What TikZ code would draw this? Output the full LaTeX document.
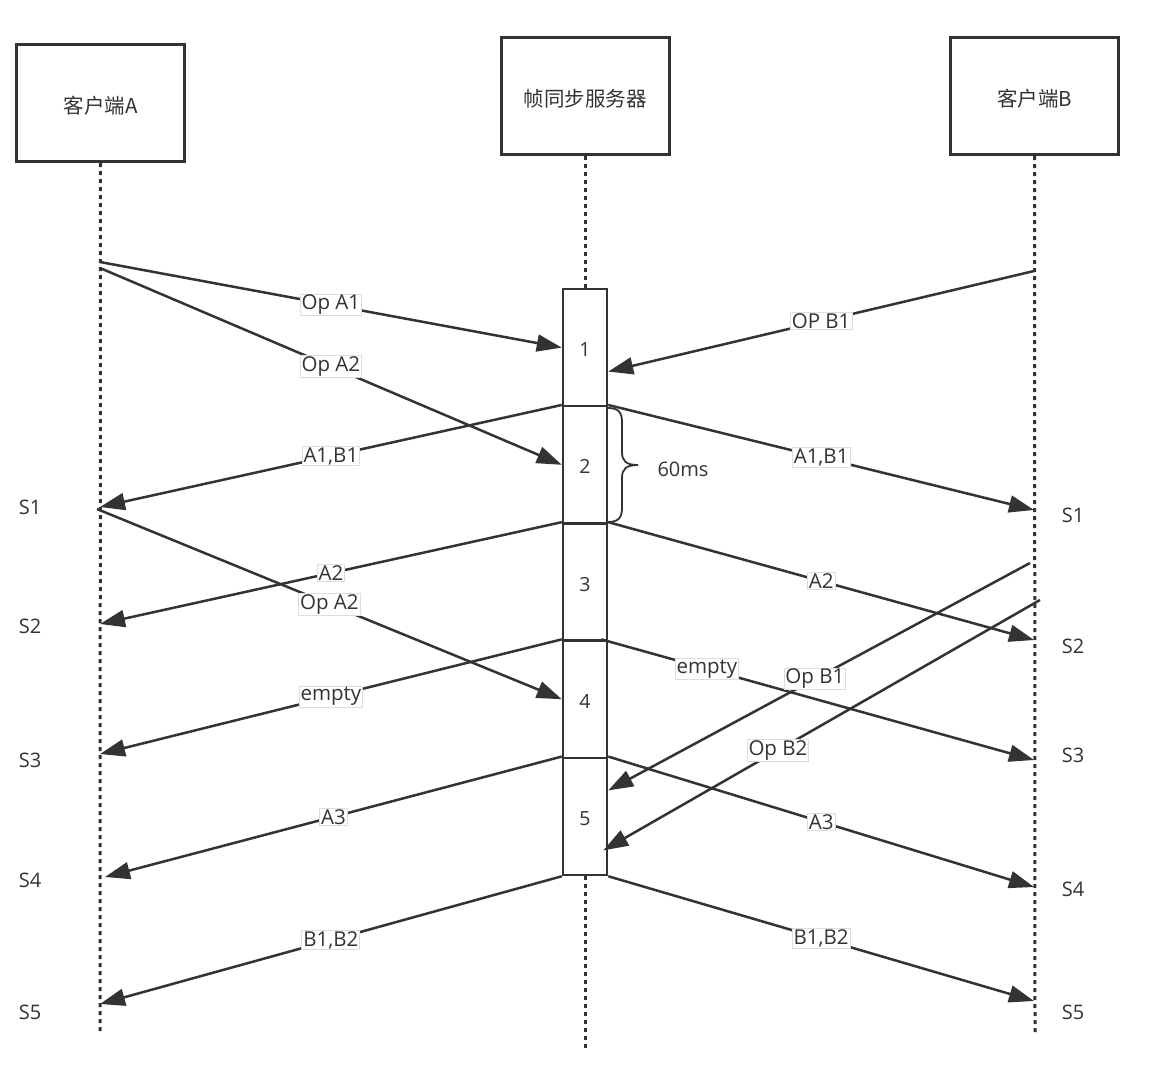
\documentclass[tikz,border=0pt]{standalone}
\usepackage{fontspec}
\setmainfont{Open Sans}
\newfontfamily\cjkfont{Noto Sans CJK SC}
\usetikzlibrary{arrows.meta,calc}
\definecolor{ink}{HTML}{333333}
\definecolor{labline}{HTML}{DDDDDD}
\begin{document}
\begin{tikzpicture}[x=1pt,y=-1pt,
  actor/.style={draw=ink, line width=3pt, minimum width=168pt, minimum height=117pt, inner sep=0pt, text height=24pt, text depth=4pt, font=\cjkfont\fontsize{20.5}{24}\selectfont, text=ink},
  frame/.style={draw=ink, fill=white, line width=2.5pt, minimum width=44pt, minimum height=117.2pt, inner sep=0pt, text height=18pt, text depth=0pt, font=\fontsize{19.5}{22}\selectfont, text=ink},
  life/.style={draw=ink, line width=3pt, dash pattern=on 4pt off 4pt},
  msg/.style={draw=ink, line width=2.5pt, -{Triangle[length=25pt,width=17pt]}},
  lab/.style={fill=white, draw=labline, line width=0.8pt, inner xsep=1.5pt, inner ysep=1pt, text=ink, font=\fontsize{20.5}{24}\selectfont},
  state/.style={text=ink, font=\fontsize{20}{22}\selectfont},
  bracestyle/.style={draw=ink, line width=1.8pt}]

\useasboundingbox (0,0) rectangle (1172,1071);
\fill[white] (0,0) rectangle (1172,1071);

% participants
\node[actor] (ca) at (100.5,103) {客户端A};
\node[actor] (srv) at (585,96) {帧同步服务器};
\node[actor] (cb) at (1034.5,96) {客户端B};

% lifeline ends
\coordinate (aend) at (100,1031);
\coordinate (send) at (585,1052);
\coordinate (bend) at (1035,1035);

\draw[life] (ca.south) -- (aend);
\draw[life] (cb.south) -- (bend);

% frames
\node[frame] (f1) at (585,347.6) {1};
\node[frame] (f2) at (585,464.8) {2};
\node[frame] (f3) at (585,582.0) {3};
\node[frame] (f4) at (585,699.2) {4};
\node[frame] (f5) at (585,816.4) {5};

\draw[life] (srv.south) -- (f1.north);
\draw[life] (f5.south) -- (send);

% points on client A lifeline
\coordinate (a0) at (100,262);
\coordinate (a0b) at (100,268);
\coordinate (aS1) at (100,507);
\coordinate (aS1b) at (97,509);
\coordinate (aS2) at (100,624);
\coordinate (aS3) at (100,754);
\coordinate (aS4) at (105,877);
\coordinate (aS5) at (100,1004);

% points on client B lifeline
\coordinate (b0) at (1034,271);
\coordinate (bS1) at (1034,510);
\coordinate (b1) at (1030,563);
\coordinate (b2) at (1040,600);
\coordinate (bS2) at (1034,640);
\coordinate (bS3) at (1034,760);
\coordinate (bS4) at (1034,887);
\coordinate (bS5) at (1034,1001);

% messages
\draw[msg] (a0) -- node[lab] {Op A1} (f1.west);
\draw[msg] (a0b) -- node[lab] {Op A2} (f2.west);
\draw[msg] (b0) -- node[lab] {OP B1} ($(f1.east)+(0,24)$);

\draw[msg] (f2.north west) -- node[lab] {A1,B1} (aS1);
\draw[msg] (f2.north east) -- node[lab] {A1,B1} (bS1);

\draw[msg] (f3.north west) -- node[lab] {A2} (aS2);
\draw[msg] (f3.north east) -- node[lab] {A2} (bS2);

\draw[msg] (aS1b) -- node[lab] {Op A2} (f4.west);

\draw[msg] (f4.north west) -- node[lab] {empty} (aS3);
\draw[msg] ($(f4.north east)+(-7,0)$) -- node[lab, pos=0.244] {empty} (bS3);

\draw[msg] (b1) -- node[lab, pos=0.51] {Op B1} ($(f5.east)+(0,-26)$);
\draw[msg] (b2) -- node[lab, pos=0.6] {Op B2} ($(f5.east)+(-5,34)$);

\draw[msg] (f5.north west) -- node[lab] {A3} (aS4);
\draw[msg] (f5.north east) -- node[lab] {A3} (bS4);

\draw[msg] (f5.south west) -- node[lab] {B1,B2} (aS5);
\draw[msg] (f5.south east) -- node[lab] {B1,B2} (bS5);

% brace and duration
\draw[bracestyle] (608,408) .. controls (618,408) and (622,412) .. (622,422) -- (622,452)
  .. controls (622,461) and (626,465) .. (638,465)
  .. controls (626,465) and (622,469) .. (622,478) -- (622,508)
  .. controls (622,518) and (618,522) .. (608,522);
\node[state] (ms) at (683,469) {60ms};

% state labels
\node[state] (sa1) at (30,507) {S1};
\node[state] (sa2) at (30,626) {S2};
\node[state] (sa3) at (30,760) {S3};
\node[state] (sa4) at (30,880) {S4};
\node[state] (sa5) at (30,1012) {S5};
\node[state] (sb1) at (1073,515) {S1};
\node[state] (sb2) at (1073,646) {S2};
\node[state] (sb3) at (1073,755) {S3};
\node[state] (sb4) at (1073,889) {S4};
\node[state] (sb5) at (1073,1012) {S5};
\end{tikzpicture}
\end{document}
